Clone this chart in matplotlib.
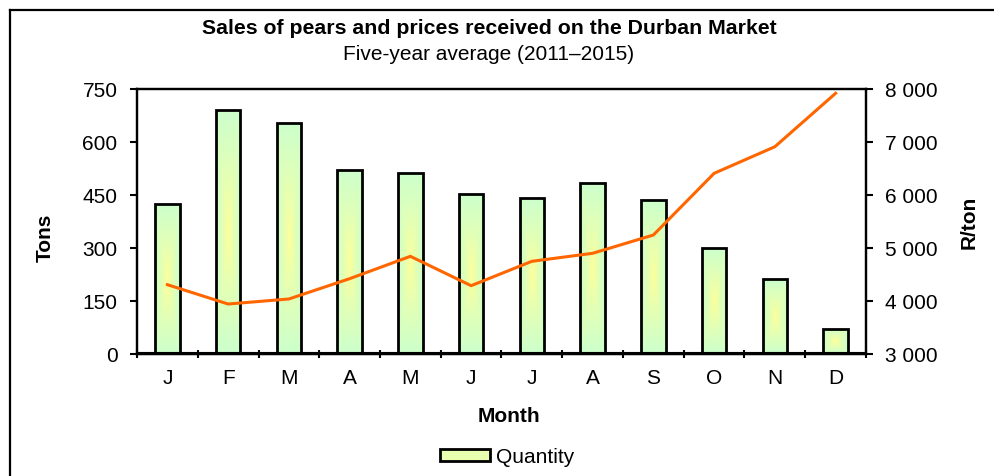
import numpy as np
import matplotlib
matplotlib.use("Agg")
import matplotlib.pyplot as plt
from matplotlib.patches import Rectangle, Patch
from matplotlib.lines import Line2D
from matplotlib.ticker import FixedLocator, FuncFormatter

plt.rcParams['font.family'] = ['Liberation Sans', 'DejaVu Sans']

months = ['J', 'F', 'M', 'A', 'M', 'J', 'J', 'A', 'S', 'O', 'N', 'D']
quantity = [424, 691, 655, 522, 512, 453, 442, 485, 437, 299, 211, 72]
price = [4308, 3943, 4038, 4421, 4843, 4289, 4749, 4900, 5245, 6409, 6911, 7919]
left_ticks = [0, 150, 300, 450, 600, 750]
right_ticks = [3000, 4000, 5000, 6000, 7000, 8000]

title = 'Sales of pears and prices received on the Durban Market'
subtitle = 'Five-year average (2011\u20132015)'

GREEN = np.array([204, 255, 204]) / 255
YELLOW = np.array([255, 255, 153]) / 255
FS = 15

fig = plt.figure(figsize=(9.95, 4.77), dpi=100)
ax = fig.add_axes([137/995, 1 - 355/477, (866-137)/995, (355-90)/477])
ax2 = ax.twinx()

x = np.arange(len(months))
bw = 0.4

# gradient image
ny, nx = 80, 40
yy, xx = np.mgrid[0:ny, 0:nx]
dx = np.abs((xx + 0.5) / nx - 0.5) / 0.5
dy = np.abs((yy + 0.5) / ny - 0.5) / 0.5
t = np.clip(np.maximum(dx, dy), 0, 1) ** 0.8
grad = YELLOW[None, None, :] * (1 - t[..., None]) + GREEN[None, None, :] * t[..., None]

bars = ax.bar(x, quantity, width=bw, facecolor='none', edgecolor='black',
              linewidth=2.0, zorder=3)
for b in bars:
    x0, w, h = b.get_x(), b.get_width(), b.get_height()
    im = ax.imshow(grad, extent=(x0, x0 + w, 0, h), aspect='auto',
                   origin='lower', zorder=2, interpolation='bilinear')
    im.set_clip_path(b)

# floor band
ax.add_patch(Rectangle((-0.5, 0), 12, 7, facecolor='#a6a6a6', edgecolor='black',
                       linewidth=0.8, zorder=4, clip_on=False))

ax.set_xlim(-0.5, 11.5)
ax.set_ylim(0, 750)
ax.set_yticks(left_ticks)
ax.xaxis.set_major_locator(FixedLocator(np.arange(-0.5, 12, 1)))
ax.xaxis.set_major_formatter(plt.NullFormatter())
ax.xaxis.set_minor_locator(FixedLocator(x))
ax.set_xticklabels(months, minor=True)
ax.tick_params(axis='x', which='major', direction='inout', length=6, width=1.5)
ax.tick_params(axis='x', which='minor', length=0, pad=10, labelsize=FS)
ax.tick_params(axis='y', direction='out', length=5, width=1.5, pad=9, labelsize=FS)

ax2.plot(x, price, color='#ff6600', linewidth=2.2, zorder=5)
ax2.set_ylim(3000, 8000)
ax2.set_yticks(right_ticks)
ax2.yaxis.set_major_formatter(FuncFormatter(lambda v, p: f"{int(v):,}".replace(',', ' ')))
ax2.tick_params(axis='y', direction='out', length=5, width=1.5, pad=9, labelsize=FS)

for a in (ax, ax2):
    for s in a.spines.values():
        s.set_linewidth(1.6)

ax.set_ylabel('Tons', fontsize=FS, fontweight='bold')
ax.yaxis.set_label_coords(-0.1135, 0.443)
ax2.set_ylabel('R/ton', fontsize=FS, fontweight='bold')
ax2.yaxis.set_label_coords(1.128, 0.50)

fig.text(489/995, 1 - 28/477, title, ha='center', va='center', fontsize=15.3, fontweight='bold')
fig.text(489/995, 1 - 55/477, subtitle, ha='center', va='center', fontsize=15)
fig.text(509/995, 1 - 417/477, 'Month', ha='center', va='center', fontsize=FS, fontweight='bold')

handle = Patch(facecolor='#e8ffb0', edgecolor='black', linewidth=2.0)
fig.legend([handle], ['Quantity'], loc='center', bbox_to_anchor=(507/995, 1 - 458/477),
           frameon=False, fontsize=FS, handlelength=2.4, handleheight=0.55,
           handletextpad=0.3, borderpad=0)

# outer frame (partially cut)
fig.add_artist(Line2D([10/995, 10/995], [0, 1 - 11/477], color='black', linewidth=1.6,
                      transform=fig.transFigure))
fig.add_artist(Line2D([10/995, 1], [1 - 11/477, 1 - 11/477], color='black', linewidth=1.6,
                      transform=fig.transFigure))

fig.savefig('out.png', dpi=100)
